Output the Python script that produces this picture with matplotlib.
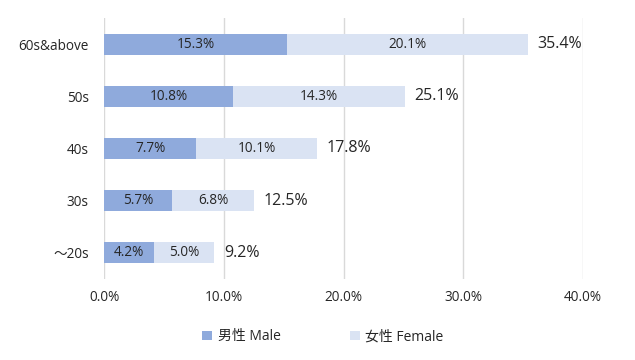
import matplotlib
matplotlib.use('Agg')
import matplotlib.pyplot as plt
from matplotlib.ticker import FuncFormatter
import numpy as np

plt.rcParams['font.family'] = ['Open Sans', 'Noto Sans CJK JP', 'DejaVu Sans']

categories = ['～20s', '30s', '40s', '50s', '60s&above']
male = [4.2, 5.7, 7.7, 10.8, 15.3]
female = [5.0, 6.8, 10.1, 14.3, 20.1]
total = [9.2, 12.5, 17.8, 25.1, 35.4]
xticks = [0, 10, 20, 30, 40]

c_male = '#8faadc'
c_female = '#dae3f3'
txt = '#262626'

fig = plt.figure(figsize=(6.35, 3.6), dpi=100)
ax = fig.add_axes([0.164, 0.225, 0.754, 0.725])

y = np.arange(len(categories))
ax.barh(y, male, height=0.4, color=c_male, label='男性 Male', zorder=2)
ax.barh(y, female, left=male, height=0.4, color=c_female, label='女性 Female', zorder=2)

for i in range(len(categories)):
    ax.text(male[i] / 2, y[i], '%.1f%%' % male[i], ha='center', va='center', fontsize=9.8, color=txt, zorder=3)
    ax.text(male[i] + female[i] / 2, y[i], '%.1f%%' % female[i], ha='center', va='center', fontsize=9.8, color=txt, zorder=3)
    ax.text(total[i] + 0.8, y[i], '%.1f%%' % total[i], ha='left', va='center', fontsize=11.5, color=txt, zorder=3)

ax.set_xlim(0, 40)
ax.set_ylim(-0.5, len(categories) - 0.5)
ax.set_xticks(xticks)
ax.xaxis.set_major_formatter(FuncFormatter(lambda v, p: '%.1f%%' % v))
ax.set_yticks(y)
ax.set_yticklabels(categories)
ax.tick_params(axis='both', length=0, labelsize=9.8, colors=txt)
ax.tick_params(axis='y', pad=11)
ax.tick_params(axis='x', pad=8)
ax.grid(axis='x', color='#d9d9d9', linewidth=1, zorder=0)
for s in ax.spines.values():
    s.set_visible(False)

ax.legend(loc='upper center', bbox_to_anchor=(0.457, -0.145), ncol=2, frameon=False,
          fontsize=10, handlelength=0.7, handleheight=0.7, columnspacing=5, handletextpad=0.4,
          labelcolor=txt)

fig.savefig('out.png', dpi=100)
